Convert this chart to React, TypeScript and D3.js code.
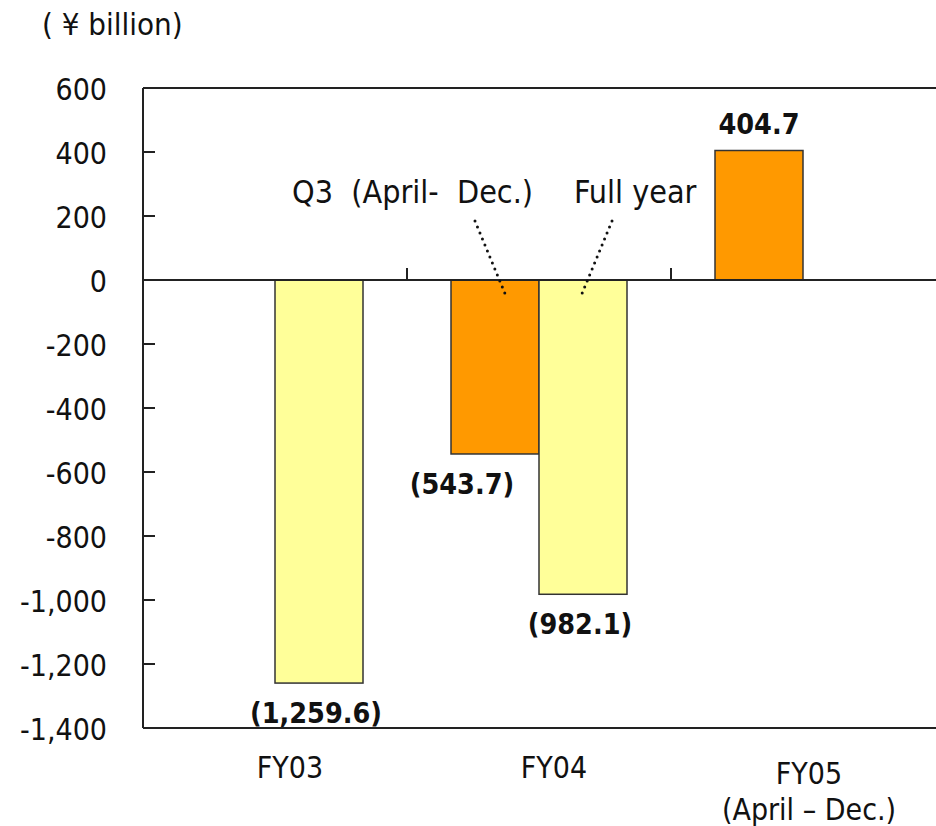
import React from "react";
import * as d3 from "d3";

const categories = ["FY03", "FY04", "FY05"];
const seriesNames = ["Q3 (April- Dec.)", "Full year"];
const q3Values: (number | null)[] = [null, -543.7, 404.7];
const fullYearValues: (number | null)[] = [-1259.6, -982.1, null];
const yTicks = [600, 400, 200, 0, -200, -400, -600, -800, -1000, -1200, -1400];
const unitLabel = "( \u00a5 billion)";
const fy05Sub = "(April \u2013 Dec.)";

const W = 936;
const H = 826;
const FONT = "'DejaVu Sans Condensed', 'DejaVu Sans', sans-serif";
const ORANGE = "#FF9900";
const YELLOW = "#FFFF99";
const INK = "#222";

function fmtLabel(v: number) {
  const s = d3.format(",.1f")(Math.abs(v));
  return v < 0 ? `(${s})` : s;
}

export default function App() {
  const left = 143, right = 935, top = 88, bottom = 728;
  const x = d3.scaleBand<string>().domain(categories).range([left, right]).padding(0);
  const xs = d3.scaleBand<string>().domain(seriesNames).range([0, x.bandwidth()]).paddingInner(0).paddingOuter(0.5);
  const y = d3.scaleLinear().domain([-1400, 600]).range([bottom, top]);
  const fmt = d3.format(",");
  const series = [
    { name: seriesNames[0], values: q3Values, color: ORANGE },
    { name: seriesNames[1], values: fullYearValues, color: YELLOW },
  ];
  const bars: { cat: string; s: string; v: number; color: string; i: number }[] = [];
  series.forEach((se) =>
    se.values.forEach((v, i) => {
      if (v != null) bars.push({ cat: categories[i], s: se.name, v, color: se.color, i });
    })
  );
  const dots = "0 6.5";

  return (
    <svg width={W} height={H} style={{ position: "absolute", left: 0, top: 0, background: "#fff" }} fontFamily={FONT}>
      <rect x={0} y={0} width={W} height={H} fill="#fff" />
      <text x={42} y={35} fontSize={31} fill="#111">{unitLabel}</text>

      {/* plot frame */}
      <line x1={left} x2={W + 5} y1={top} y2={top} stroke={INK} strokeWidth={2} />
      <line x1={left} x2={W + 5} y1={bottom} y2={bottom} stroke={INK} strokeWidth={2} />
      <line x1={left} x2={left} y1={top} y2={bottom} stroke={INK} strokeWidth={2} />

      {/* y ticks */}
      {yTicks.map((t) => (
        <g key={t}>
          <line x1={left} x2={left + 12} y1={y(t)} y2={y(t)} stroke={INK} strokeWidth={2} />
          <text x={107} y={y(t) + 12} textAnchor="end" fontSize={30} fill="#111">
            {t < 0 ? "-" + fmt(-t) : fmt(t)}
          </text>
        </g>
      ))}

      {/* bars */}
      {bars.map((b) => {
        const bx = (x(b.cat) as number) + (xs(b.s) as number);
        const y0 = y(0), y1 = y(b.v);
        return (
          <rect key={b.cat + b.s} x={bx} y={Math.min(y0, y1)} width={xs.bandwidth()} height={Math.abs(y1 - y0)}
            fill={b.color} stroke="#333" strokeWidth={1.5} />
        );
      })}

      {/* zero line with category ticks */}
      <line x1={left} x2={W + 5} y1={y(0)} y2={y(0)} stroke={INK} strokeWidth={2} />
      {categories.slice(1).map((c) => (
        <line key={c} x1={x(c) as number} x2={x(c) as number} y1={y(0) - 12} y2={y(0)} stroke={INK} strokeWidth={2} />
      ))}

      {/* value labels */}
      {bars.map((b) => {
        const cx = (x(b.cat) as number) + (xs(b.s) as number) + xs.bandwidth() / 2;
        const shift = b.s === seriesNames[0] && b.v < 0 ? -33 : b.v < 0 ? -3 : 0;
        const ly = b.v < 0 ? y(b.v) + 40 : y(b.v) - 16;
        return (
          <text key={"l" + b.cat + b.s} x={cx + shift} y={ly} textAnchor="middle" fontSize={28.5} fontWeight="bold" fill="#111">
            {fmtLabel(b.v)}
          </text>
        );
      })}

      {/* series annotations */}
      <text x={292} y={203} fontSize={32} fill="#111" xmlSpace="preserve">{"Q3  (April-  Dec.)"}</text>
      <text x={574} y={203} fontSize={32} fill="#111">{seriesNames[1]}</text>
      <line x1={475} y1={221} x2={506} y2={296} stroke="#111" strokeWidth={3} strokeLinecap="round" strokeDasharray={dots} />
      <line x1={612} y1={221} x2={581} y2={296} stroke="#111" strokeWidth={3} strokeLinecap="round" strokeDasharray={dots} />

      {/* category labels */}
      {categories.map((c, i) => {
        const cx = (x(c) as number) + x.bandwidth() / 2 + (i === 2 ? 6 : 15);
        return (
          <text key={c} x={cx} y={i === 2 ? 784 : 778} textAnchor="middle" fontSize={30} fill="#111">{c}</text>
        );
      })}
      <text x={(x(categories[2]) as number) + x.bandwidth() / 2 + 6} y={820} textAnchor="middle" fontSize={30} fill="#111">{fy05Sub}</text>
    </svg>
  );
}
